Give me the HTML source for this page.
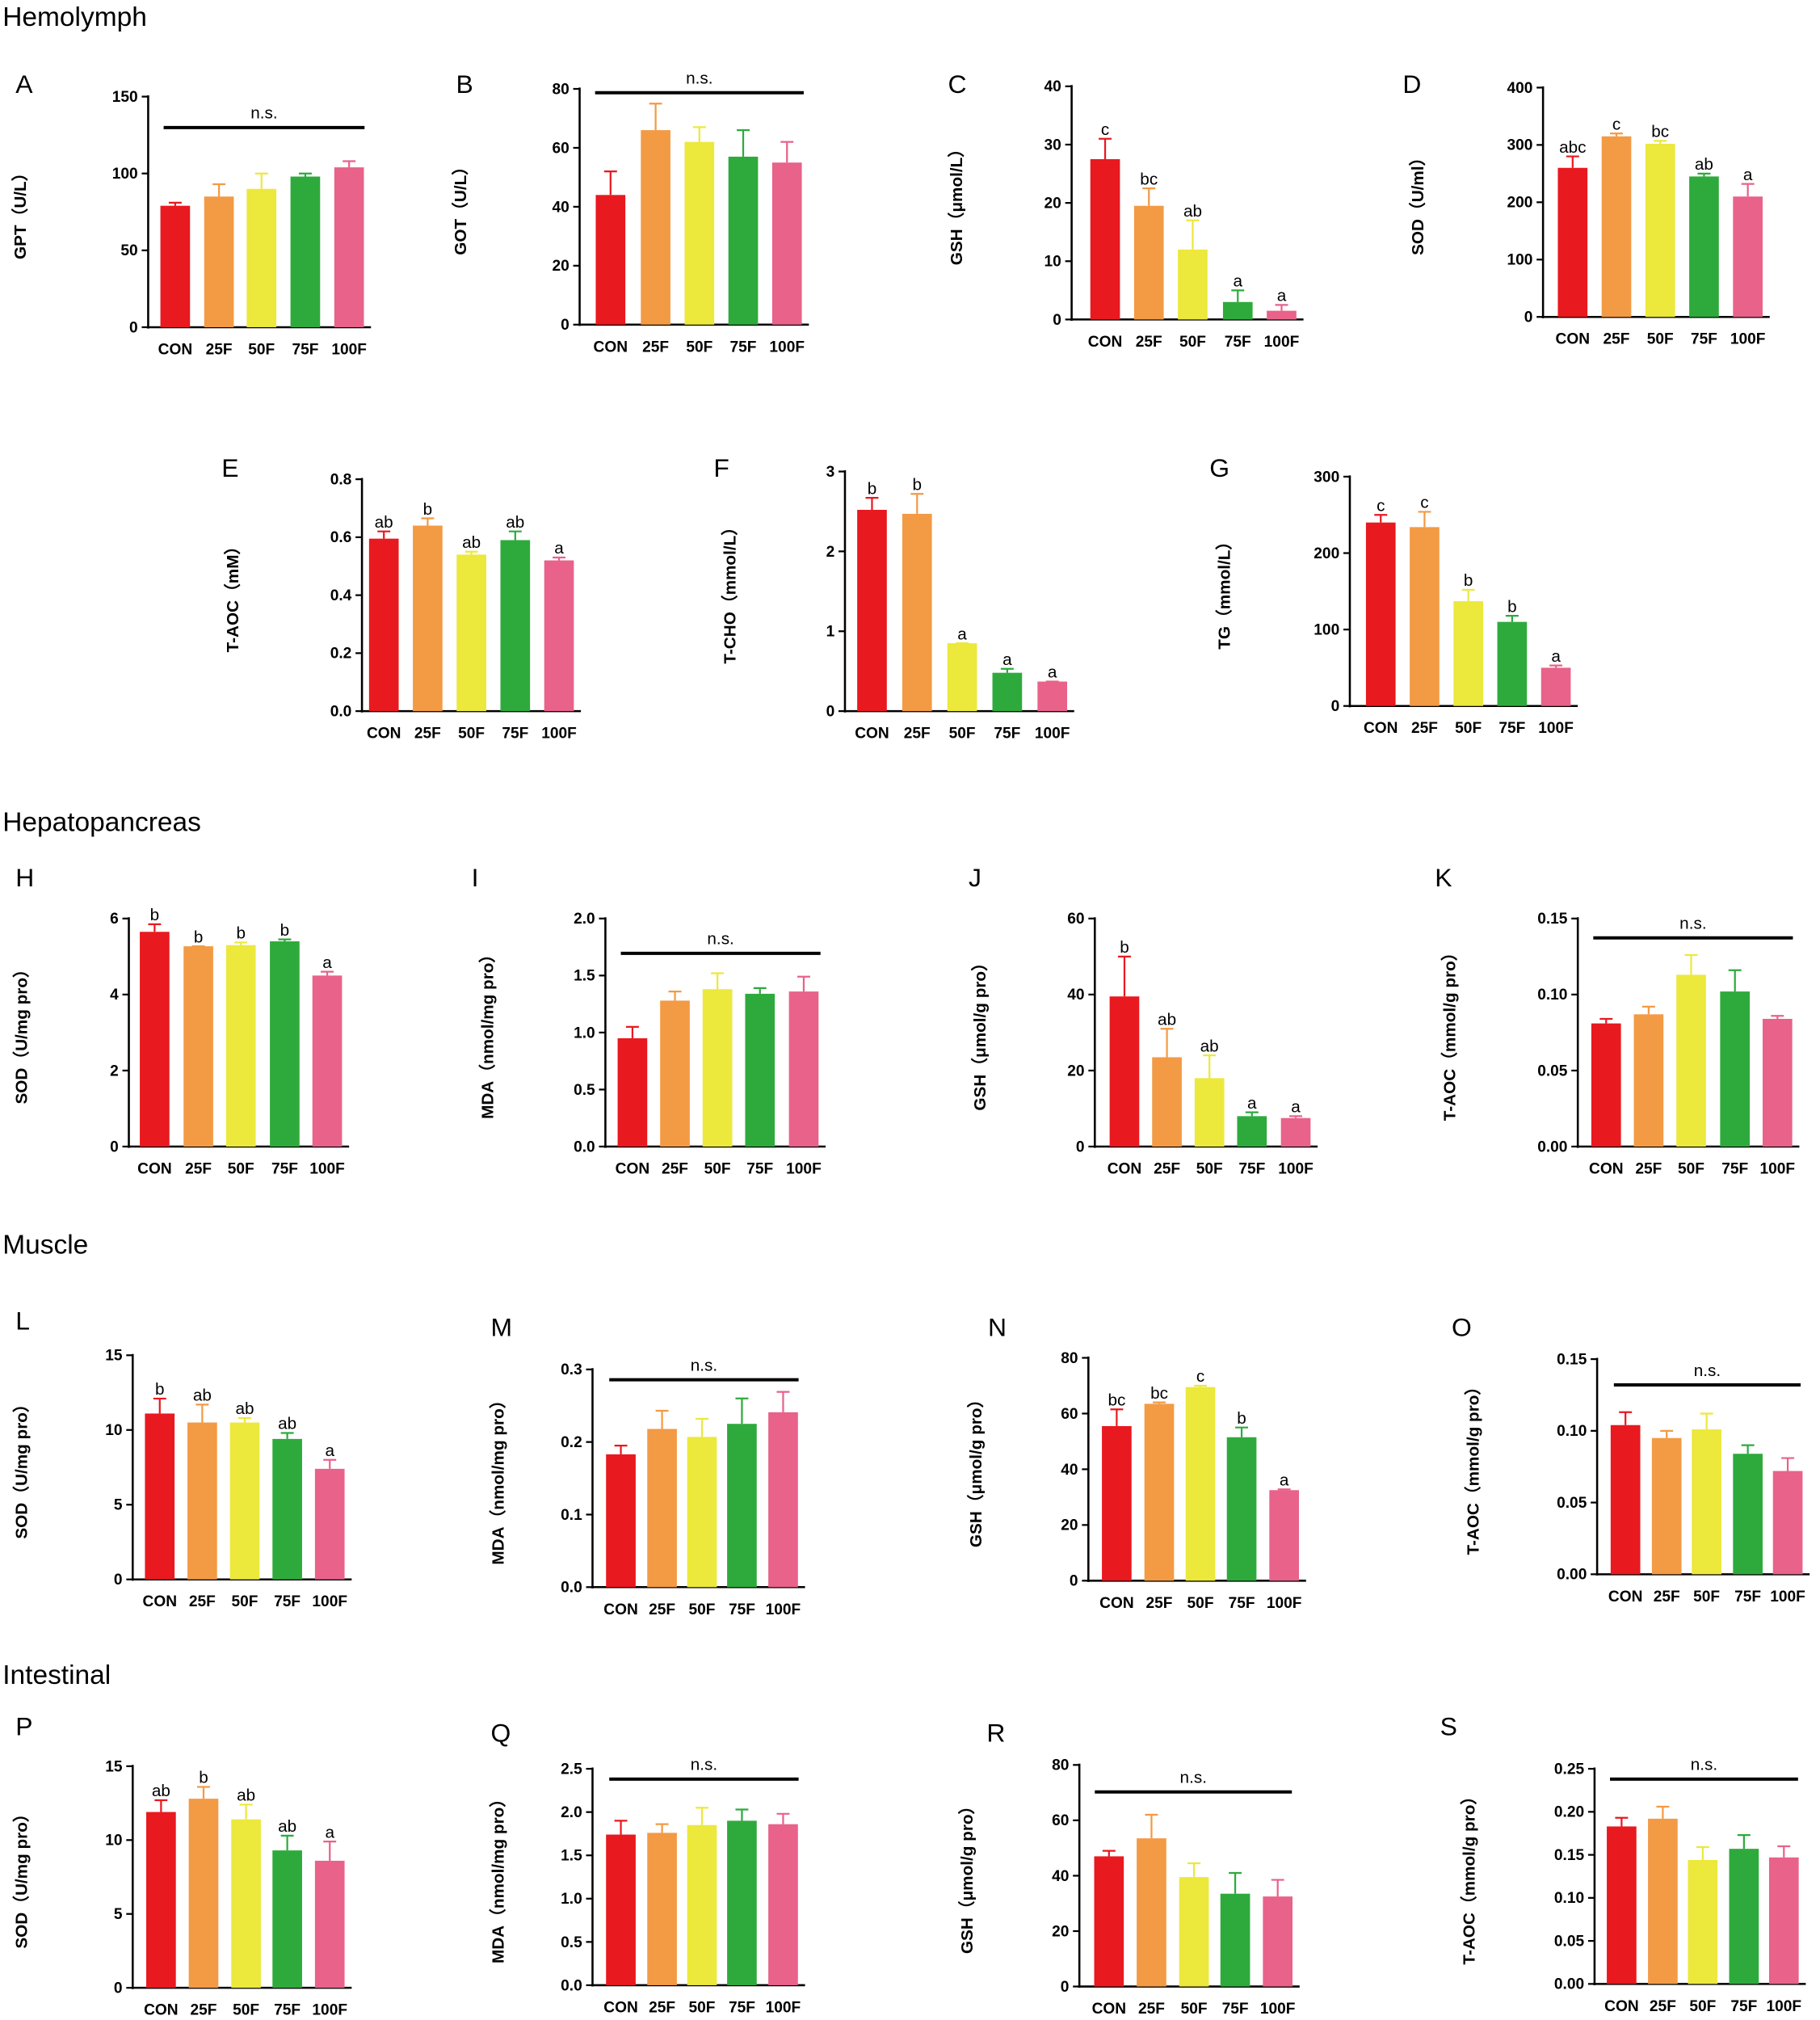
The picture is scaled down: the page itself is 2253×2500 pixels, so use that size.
<!DOCTYPE html>
<html><head><meta charset="utf-8"><style>html,body{margin:0;padding:0;background:#fff}svg{display:block}</style></head>
<body>
<svg id="s" xmlns="http://www.w3.org/2000/svg" width="2253" height="2500" viewBox="0 0 1413 1568" font-family="Liberation Sans, DejaVu Sans, sans-serif">
<rect width="1413" height="1568" fill="#fff"/>
<text x="2" y="20" font-size="21">Hemolymph</text>
<text x="2" y="645" font-size="21">Hepatopancreas</text>
<text x="2" y="973" font-size="21">Muscle</text>
<text x="2" y="1307" font-size="21">Intestinal</text>
</svg>
<script>
var C=["#e8191f","#f39a45","#ece83c","#2eaa3c","#e8628a"],X=["CON","25F","50F","75F","100F"];
var D=[
["A",18,72,"GPT（U/L）",15,115,254,75,150,[0,50,100,150],0,[136,170,203,237,271],[79,85,90,98,104],[2,8,10,2,4],null,[99,127,283]],
["B",360,72,"GOT（U/L）",357,450,252,69,80,[0,20,40,60,80],0,[474,509,543,577,611],[44,66,62,57,55],[8,9,5,9,7],null,[72,462,624]],
["C",742,72,"GSH（μmol/L）",742,832,248,67,40,[0,10,20,30,40],0,[858,892,926,961,995],[27.5,19.5,12,3,1.5],[3.5,3,5,2,1],["c","bc","ab","a","a"]],
["D",1095,72,"SOD（U/ml）",1100,1198,246,68,400,[0,100,200,300,400],0,[1221,1255,1289,1323,1357],[260,315,302,245,210],[20,5,5,5,22],["abc","c","bc","ab","a"]],
["E",178,370,"T-AOC（mM）",180,281,552,372,0.8,[0,.2,.4,.6,.8],1,[298,332,366,400,434],[.595,.64,.54,.59,.52],[.025,.025,.01,.03,.01],["ab","b","ab","ab","a"]],
["F",560,370,"T-CHO（mmol/L）",566,656,552,366,3,[0,1,2,3],0,[677,712,747,782,817],[2.52,2.47,.85,.48,.37],[.15,.25,0,.05,0],["b","b","a","a","a"]],
["G",945,370,"TG（mmol/L）",950,1048,548,370,300,[0,100,200,300],0,[1072,1106,1140,1174,1208],[240,234,137,110,50],[10,20,15,8,3],["c","c","b","b","a"]],
["H",18,688,"SOD（U/mg pro）",16,100,890,713,6,[0,2,4,6],0,[120,154,187,221,254],[5.65,5.27,5.3,5.4,4.5],[.2,0,.07,.05,.1],["b","b","b","b","a"]],
["I",372,688,"MDA（nmol/mg pro）",378,470,890,713,2,[0,.5,1,1.5,2],1,[491,524,557,590,624],[.95,1.28,1.38,1.34,1.36],[.1,.08,.14,.05,.13],null,[740,482,637]],
["J",758,688,"GSH（μmol/g pro）",760,850,890,713,60,[0,20,40,60],0,[873,906,939,972,1006],[39.5,23.5,18,8,7.5],[10.5,7.5,6,1,.5],["b","ab","ab","a","a"]],
["K",1120,688,"T-AOC（mmol/g pro）",1125,1225,890,713,.15,[0,.05,.1,.15],2,[1247,1280,1313,1347,1380],[.081,.087,.113,.102,.084],[.003,.005,.013,.014,.002],null,[728,1237,1392]],
["L",18,1032,"SOD（U/mg pro）",16,103,1226,1052,15,[0,5,10,15],0,[124,157,190,223,256],[11.1,10.5,10.5,9.4,7.4],[1,1.2,.3,.4,.6],["b","ab","ab","ab","a"]],
["M",387,1037,"MDA（nmol/mg pro）",386,460,1232,1063,.3,[0,.1,.2,.3],1,[482,514,545,576,608],[.183,.218,.207,.225,.241],[.012,.025,.025,.035,.028],null,[1071,473,620]],
["N",773,1037,"GSH（μmol/g pro）",757,845,1227,1054,80,[0,20,40,60,80],0,[867,900,932,964,997],[55.5,63.5,69.5,51.5,32.5],[6,.5,.5,3.5,.3],["bc","bc","c","b","a"]],
["O",1133,1037,"T-AOC（mmol/g pro）",1143,1240,1222,1055,.15,[0,.05,.1,.15],2,[1262,1294,1325,1357,1388],[.104,.095,.101,.084,.072],[.009,.005,.011,.006,.009],null,[1075,1253,1398]],
["P",18,1347,"SOD（U/mg pro）",16,103,1543,1371,15,[0,5,10,15],0,[125,158,191,223,256],[11.9,12.8,11.4,9.3,8.6],[.8,.8,1,1,1.3],["ab","b","ab","ab","a"]],
["Q",387,1352,"MDA（nmol/mg pro）",386,460,1541,1373,2.5,[0,.5,1,1.5,2,2.5],1,[482,514,545,576,608],[1.74,1.76,1.85,1.9,1.86],[.16,.1,.2,.13,.12],null,[1381,473,620]],
["R",772,1352,"GSH（μmol/g pro）",750,838,1542,1370,80,[0,20,40,60,80],0,[861,894,927,959,992],[47,53.5,39.5,33.5,32.5],[2,8.5,5,7.5,6],null,[1391,850,1003]],
["S",1124,1347,"T-AOC（mmol/g pro）",1140,1238,1540,1373,.25,[0,.05,.1,.15,.2,.25],2,[1259,1291,1322,1354,1385],[.183,.192,.144,.157,.147],[.01,.014,.015,.016,.013],null,[1381,1250,1396]]
];
var h="";
D.forEach(function(d){
 var ax=d[5],y0=d[6],yt=d[7],mx=d[8],cs=d[11];
 function Y(v){return y0-(y0-yt)*v/mx;}
 h+='<text x="'+(d[1]-6)+'" y="'+d[2]+'" font-size="20">'+d[0]+'</text>';
 var cy=(y0+yt)/2;
 h+='<text transform="translate('+(d[4]+5)+','+cy+') rotate(-90)" text-anchor="middle" font-size="13" font-weight="bold">'+d[3]+'</text>';
 h+='<line x1="'+ax+'" y1="'+(yt-1)+'" x2="'+ax+'" y2="'+(y0+1)+'" stroke="#000" stroke-width="1.6"/>';
 var xe=cs[4]+17;
 h+='<line x1="'+(ax-1)+'" y1="'+y0+'" x2="'+xe+'" y2="'+y0+'" stroke="#000" stroke-width="1.6"/>';
 d[9].forEach(function(t){var y=Y(t);
  h+='<line x1="'+(ax-5)+'" y1="'+y+'" x2="'+ax+'" y2="'+y+'" stroke="#000" stroke-width="1.4"/>';
  h+='<text x="'+(ax-8)+'" y="'+(y+4)+'" text-anchor="end" font-size="12" font-weight="bold">'+t.toFixed(d[10])+'</text>';});
 cs.forEach(function(c,i){var v=d[12][i],e=d[13][i],yb=Y(v),ye=Y(v+e);
  h+='<line x1="'+c+'" y1="'+yb+'" x2="'+c+'" y2="'+ye+'" stroke="'+C[i]+'" stroke-width="1.4"/>';
  h+='<line x1="'+(c-5)+'" y1="'+ye+'" x2="'+(c+5)+'" y2="'+ye+'" stroke="'+C[i]+'" stroke-width="1.4"/>';
  h+='<rect x="'+(c-11.5)+'" y="'+yb+'" width="23" height="'+(y0-yb)+'" fill="'+C[i]+'"/>';
  h+='<text x="'+c+'" y="'+(y0+21)+'" text-anchor="middle" font-size="12" font-weight="bold">'+X[i]+'</text>';
  if(d[14])h+='<text x="'+c+'" y="'+(ye-3)+'" text-anchor="middle" font-size="13">'+d[14][i]+'</text>';});
 if(d[15]){var n=d[15];
  h+='<line x1="'+n[1]+'" y1="'+n[0]+'" x2="'+n[2]+'" y2="'+n[0]+'" stroke="#000" stroke-width="2.5"/>';
  h+='<text x="'+((n[1]+n[2])/2)+'" y="'+(n[0]-7)+'" text-anchor="middle" font-size="13">n.s.</text>';}
});
document.getElementById("s").insertAdjacentHTML("beforeend",h);
</script>
</body></html>
